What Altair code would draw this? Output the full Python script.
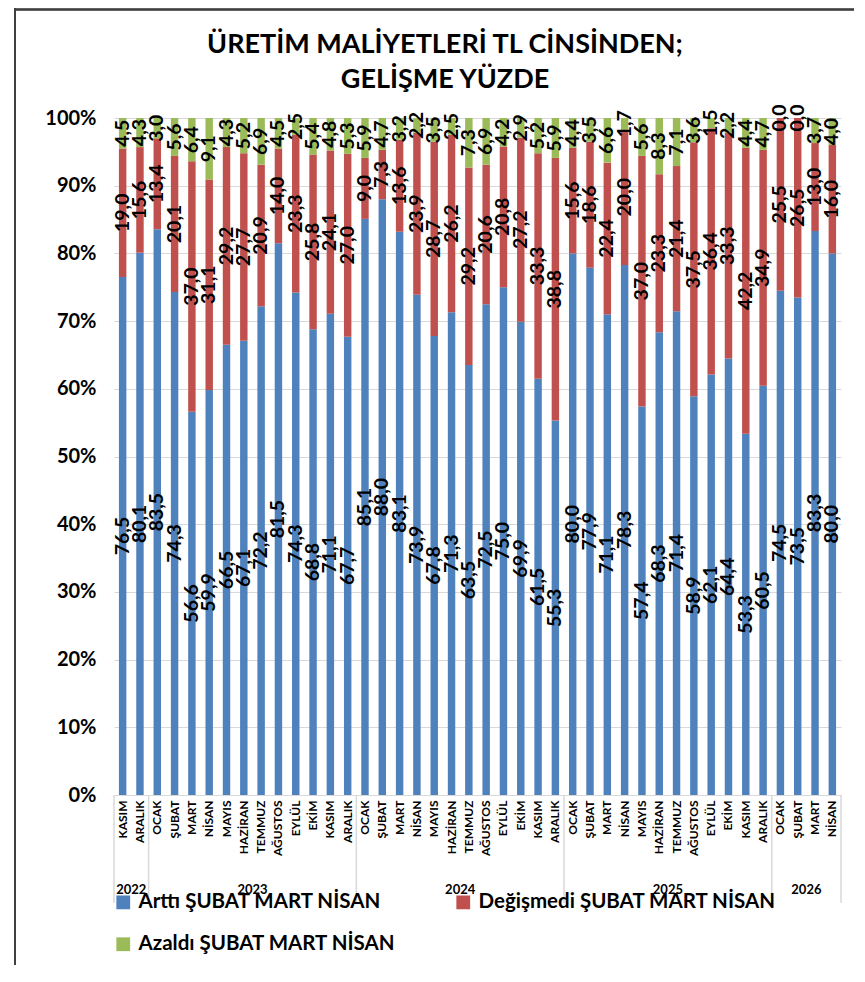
import altair as alt
import pandas as pd

years = ["2022"] * 2 + ["2023"] * 12 + ["2024"] * 12 + ["2025"] * 12 + ["2026"] * 4
full_year = ["OCAK", "ŞUBAT", "MART", "NİSAN", "MAYIS", "HAZİRAN", "TEMMUZ",
             "AĞUSTOS", "EYLÜL", "EKİM", "KASIM", "ARALIK"]
months = ["KASIM", "ARALIK"] + full_year * 3 + ["OCAK", "ŞUBAT", "MART", "NİSAN"]

artti = [76.5, 80.1,
         83.5, 74.3, 56.6, 59.9, 66.5, 67.1, 72.2, 81.5, 74.3, 68.8, 71.1, 67.7,
         85.1, 88.0, 83.1, 73.9, 67.8, 71.3, 63.5, 72.5, 75.0, 69.9, 61.5, 55.3,
         80.0, 77.9, 71.1, 78.3, 57.4, 68.3, 71.4, 58.9, 62.1, 64.4, 53.3, 60.5,
         74.5, 73.5, 83.3, 80.0]
degismedi = [19.0, 15.6,
             13.4, 20.1, 37.0, 31.1, 29.2, 27.7, 20.9, 14.0, 23.3, 25.8, 24.1, 27.0,
             9.0, 7.3, 13.6, 23.9, 28.7, 26.2, 29.2, 20.6, 20.8, 27.2, 33.3, 38.8,
             15.6, 18.6, 22.4, 20.0, 37.0, 23.3, 21.4, 37.5, 36.4, 33.3, 42.2, 34.9,
             25.5, 26.5, 13.0, 16.0]
azaldi = [4.5, 4.3,
          3.0, 5.6, 6.4, 9.1, 4.3, 5.2, 6.9, 4.5, 2.5, 5.4, 4.8, 5.3,
          5.9, 4.7, 3.2, 2.2, 3.5, 2.5, 7.3, 6.9, 4.2, 2.9, 5.2, 5.9,
          4.4, 3.5, 6.6, 1.7, 5.6, 8.3, 7.1, 3.6, 1.5, 2.2, 4.4, 4.7,
          0.0, 0.0, 3.7, 4.0]

series_names = ["Arttı ŞUBAT MART NİSAN", "Değişmedi ŞUBAT MART NİSAN", "Azaldı ŞUBAT MART NİSAN"]
series_colors = ["#4F81BD", "#C0504D", "#9BBB59"]
# legend is laid out column by column: Arttı / Azaldı in column 1, Değişmedi in column 2
legend_order = [series_names[0], series_names[2], series_names[1]]
legend_colors = [series_colors[0], series_colors[2], series_colors[1]]

year_groups = ["2022", "2023", "2024", "2025", "2026"]
year_counts = [2, 12, 12, 12, 4]

title_lines = ["ÜRETİM MALİYETLERİ TL CİNSİNDEN;", "GELİŞME YÜZDE"]

keys = [f"{y}-{m}" for y, m in zip(years, months)]
rows = []
for i, k in enumerate(keys):
    for s, (name, vals) in enumerate(zip(series_names, [artti, degismedi, azaldi])):
        rows.append({"key": k, "series": name, "ord": s, "value": vals[i]})
df = pd.DataFrame(rows)

bounds = [0]
for c in year_counts:
    bounds.append(bounds[-1] + c)
centers = [(bounds[i] + bounds[i + 1]) / 2 for i in range(len(year_counts))]
sep_df = pd.DataFrame({"pos": bounds})
yr_df = pd.DataFrame({"pos": centers, "year": year_groups})

FONT = "Lato"
N = len(keys)

base = alt.Chart(df).transform_stack(
    stack="value", groupby=["key"], as_=["y0", "y1"],
    sort=[alt.SortField("ord", order="ascending")], offset="normalize"
).transform_calculate(
    mid="(datum.y0 + datum.y1) / 2",
    lbl="replace(format(datum.value, '.1f'), '.', ',')"
)

xenc = alt.X("key:N", sort=keys,
             scale=alt.Scale(paddingInner=0.57, paddingOuter=0.285),
             axis=alt.Axis(title=None, labelAngle=270,
                           labelExpr="split(datum.label, '-')[1]",
                           labelFont=FONT, labelFontWeight="bold", labelFontSize=12,
                           labelColor="black", labelPadding=5, ticks=False,
                           domainColor="#d9d9d9", labelBound=False, labelOverlap=False))

bars = base.mark_bar().encode(
    x=xenc,
    y=alt.Y("y0:Q", scale=alt.Scale(domain=[0, 1]),
            axis=alt.Axis(title=None, format=".0%", values=[i / 10 for i in range(11)],
                          grid=True, gridColor="#d9d9d9", domain=False, ticks=False,
                          labelFont=FONT, labelFontWeight="bold", labelFontSize=20,
                          labelColor="black", labelPadding=18)),
    y2="y1:Q",
    color=alt.Color("series:N", sort=legend_order,
                    scale=alt.Scale(domain=legend_order, range=legend_colors),
                    legend=alt.Legend(title=None, orient="none", legendX=-1, legendY=774,
                                      columns=2, columnPadding=57, rowPadding=21,
                                      symbolType="square", symbolSize=190,
                                      symbolStrokeWidth=0, labelFont=FONT,
                                      labelFontWeight="bold", labelFontSize=20.5,
                                      labelColor="black", labelLimit=400,
                                      labelOffset=5)),
)

labels = base.mark_text(angle=270, font=FONT, fontWeight="bold", fontSize=19.5,
                        color="black", align="center", baseline="middle").encode(
    x=alt.X("key:N", sort=keys),
    y=alt.Y("mid:Q"),
    text="lbl:N",
)

main = alt.layer(bars, labels)

qx = alt.X("pos:Q", scale=alt.Scale(domain=[0, N], nice=False, zero=False), axis=None)
seps = alt.Chart(sep_df).mark_rule(color="#d9d9d9", strokeWidth=1.5).encode(
    x=qx, y=alt.value(677), y2=alt.value(785))
yrs = alt.Chart(yr_df).mark_text(font=FONT, fontWeight="bold", fontSize=13,
                                 color="black", baseline="middle").encode(
    x=qx, y=alt.value(772), text="year:N")

title_df = pd.DataFrame({"line": title_lines, "row": [0, 1]})
title = alt.Chart(title_df).mark_text(font=FONT, fontWeight="bold", fontSize=27,
                                      color="black", align="center",
                                      baseline="middle").encode(
    x=alt.value(331),
    y=alt.Y("row:Q", scale=alt.Scale(domain=[0, 1], range=[-73, -38], nice=False,
                                     zero=False), axis=None),
    text="line:N")

frame_left = alt.Chart(sep_df).mark_rule(color="#404040", strokeWidth=1.5).encode(
    x=alt.value(-99), y=alt.value(-110), y2=alt.value(860))
frame_top = alt.Chart(sep_df).mark_rule(color="#404040", strokeWidth=1.5).encode(
    x=alt.value(-99), x2=alt.value(740), y=alt.value(-108.5))

chart = alt.layer(main, seps, yrs, title, frame_left, frame_top).resolve_scale(
    x="independent", y="independent"
).properties(
    width=727, height=677,
    autosize=alt.AutoSizeParams(type="none"),
    padding={"left": 106, "top": 110, "right": 16, "bottom": 170},
).configure_view(stroke=None)

chart.save("out.html", embed_options={"renderer": "svg", "actions": False})
